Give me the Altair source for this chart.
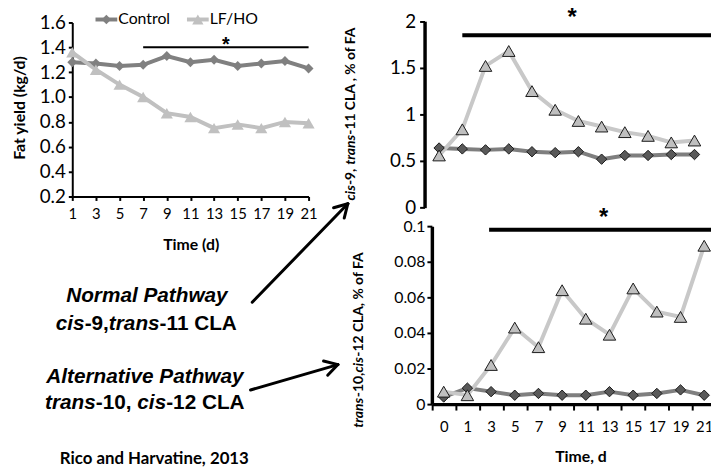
import math
import altair as alt
import pandas as pd

# ---------------- data ----------------
series = ["Control", "LF/HO"]

days_fat = [1, 3, 5, 7, 9, 11, 13, 15, 17, 19, 21]
fat_control = [1.28, 1.27, 1.25, 1.26, 1.33, 1.28, 1.30, 1.25, 1.27, 1.29, 1.23]
fat_lfho = [1.36, 1.22, 1.10, 1.00, 0.87, 0.84, 0.75, 0.78, 0.75, 0.80, 0.79]
fat_ticks = [0.2, 0.4, 0.6, 0.8, 1.0, 1.2, 1.4, 1.6]

days_cla = ["0", "1", "3", "5", "7", "9", "11", "13", "15", "17", "19", "21"]
c9t11_control = [0.64, 0.63, 0.62, 0.63, 0.60, 0.59, 0.60, 0.52, 0.56, 0.56, 0.57, 0.57]
c9t11_lfho = [0.56, 0.84, 1.52, 1.68, 1.25, 1.05, 0.93, 0.87, 0.81, 0.77, 0.70, 0.72]
c9t11_ticks = [0, 0.5, 1, 1.5, 2]

t10c12_control = [0.004, 0.009, 0.007, 0.005, 0.006, 0.005, 0.005, 0.007, 0.005, 0.006, 0.008, 0.005]
t10c12_lfho = [0.007, 0.005, 0.022, 0.043, 0.032, 0.064, 0.048, 0.039, 0.065, 0.052, 0.049, 0.089]
t10c12_ticks = [0, 0.02, 0.04, 0.06, 0.08, 0.1]

# significance bars (start day, end day, level, asterisk anchor)
sig_fat = {"start": 7, "end": 21, "level": 1.4, "star": "*"}
sig_c9 = {"start": "1", "end": "21", "level": 1.85, "anchor": "9", "star": "*"}
sig_t10 = {"start": "3", "end": "21", "level": 0.098, "anchor": "11", "star": "*"}

W, H = 711, 463
FONT = "Lato"
ARIAL = "Liberation Sans"


def long_df(days, a, b):
    return pd.DataFrame({
        "day": list(days) + list(days),
        "value": list(a) + list(b),
        "series": [series[0]] * len(a) + [series[1]] * len(b),
    })


def axis(orient, offset, **kw):
    base = dict(orient=orient, offset=offset, title=None, grid=False,
                domainColor="black", tickColor="black", labelColor="black",
                labelFont=FONT, labelOverlap=False, labelFlush=False)
    base.update(kw)
    return alt.Axis(**base)


# ---------------- panel A: fat yield ----------------
df_a = long_df(days_fat, fat_control, fat_lfho)
sc_xa = alt.Scale(domain=[1, 21], range=[65, 304], nice=False, zero=False)
sc_ya = alt.Scale(domain=[0.2, 1.6], range=[188, 12], nice=False, zero=False)
ax_xa = axis("bottom", 188 - H, values=days_fat, format="d", domainWidth=2, tickWidth=2,
             tickSize=4, labelFontSize=15, labelPadding=6)
ax_ya = axis("left", -65, values=fat_ticks, format=".1f", domainWidth=2, tickWidth=2,
             tickSize=4, labelFontSize=19, labelPadding=3)


def xa(f):
    return alt.X(f, scale=sc_xa, axis=ax_xa)


def ya(f):
    return alt.Y(f, scale=sc_ya, axis=ax_ya)


col_a = alt.Scale(domain=series, range=["#808080", "#c0c0c0"])
shape_sc = alt.Scale(domain=series, range=["diamond", "triangle-up"])

line_a = alt.Chart(df_a).mark_line(strokeWidth=4).encode(
    x=xa("day:Q"), y=ya("value:Q"),
    color=alt.Color("series:N", scale=col_a, legend=None))
pts_a = alt.Chart(df_a).mark_point(filled=True, opacity=1).encode(
    x=xa("day:Q"), y=ya("value:Q"),
    color=alt.Color("series:N", scale=col_a, legend=None),
    shape=alt.Shape("series:N", scale=shape_sc, legend=None),
    size=alt.Size("series:N", scale=alt.Scale(domain=series, range=[100, 150]), legend=None))
sig_a_df = pd.DataFrame([sig_fat])
sig_a = alt.Chart(sig_a_df).mark_rule(strokeWidth=2, color="black").encode(
    x=xa("start:Q"), x2="end:Q", y=ya("level:Q"))
star_a = alt.Chart(sig_a_df).transform_calculate(mid="(datum.start + datum.end) / 2").mark_text(
    font=ARIAL, fontSize=20, fontWeight="bold", baseline="alphabetic", dy=4, color="black").encode(
    x=xa("mid:Q"), y=ya("level:Q"), text="star:N")
panel_a = alt.layer(line_a, pts_a, sig_a, star_a)

# legend for panel A
leg_df = pd.DataFrame({"series": series})
leg_x = alt.X("series:N", scale=alt.Scale(type="point", domain=series, range=[99.5, 192], padding=0), axis=None)
leg_line = alt.Chart(leg_df).mark_rule(strokeWidth=4, xOffset=-11, x2Offset=11).encode(
    x=leg_x, x2="series:N", y=alt.value(9),
    color=alt.Color("series:N", scale=col_a, legend=None))
leg_pts = alt.Chart(leg_df).mark_point(filled=True, opacity=1).encode(
    x=leg_x, y=alt.value(9),
    color=alt.Color("series:N", scale=col_a, legend=None),
    shape=alt.Shape("series:N", scale=shape_sc, legend=None),
    size=alt.Size("series:N", scale=alt.Scale(domain=series, range=[90, 130]), legend=None))
leg_txt = alt.Chart(leg_df).mark_text(align="left", baseline="middle", dx=12, font=FONT,
                                      fontSize=16, color="black").encode(
    x=leg_x, y=alt.value(9), text="series:N")
legend_a = alt.layer(leg_line, leg_pts, leg_txt)

# ---------------- panels B and C ----------------
line_col = alt.Scale(domain=series, range=["#7f7f7f", "#c8c8c8"])
fill_col = alt.Scale(domain=series, range=["#595959", "#bfbfbf"])
size_bc = alt.Scale(domain=series, range=[110, 160])


def cla_panel(df, sig, xenc, yenc, star_dx, star_dy, x_off):
    ln = alt.Chart(df).mark_line(strokeWidth=4).encode(
        x=xenc("day:N"), y=yenc("value:Q"),
        color=alt.Color("series:N", scale=line_col, legend=None))
    pt = alt.Chart(df).mark_point(filled=True, opacity=1, stroke="#1a1a1a", strokeWidth=1).encode(
        x=xenc("day:N"), y=yenc("value:Q"),
        fill=alt.Fill("series:N", scale=fill_col, legend=None),
        shape=alt.Shape("series:N", scale=shape_sc, legend=None),
        size=alt.Size("series:N", scale=size_bc, legend=None))
    sdf = pd.DataFrame([sig])
    bar = alt.Chart(sdf).mark_rule(strokeWidth=4, color="black", xOffset=x_off, x2Offset=25).encode(
        x=xenc("start:N"), x2="end:N", y=yenc("level:Q"))
    st = alt.Chart(sdf).mark_text(font=ARIAL, fontSize=24, fontWeight="bold", baseline="alphabetic",
                                  dx=star_dx, dy=star_dy, color="black").encode(
        x=xenc("anchor:N"), y=yenc("level:Q"), text="star:N")
    return alt.layer(ln, pt, bar, st)


df_b = long_df(days_cla, c9t11_control, c9t11_lfho)
sc_xb = alt.Scale(type="point", domain=days_cla, range=[436, 694.3], padding=0)
sc_yb = alt.Scale(domain=[0, 2], range=[199.3, 10.7], nice=False, zero=False)
ax_yb = axis("left", -421.3, values=c9t11_ticks, format="~g", domainWidth=3.5, tickWidth=2,
             tickSize=5, labelFontSize=19, labelPadding=4)


def xb(f):
    return alt.X(f, scale=sc_xb, axis=None)


def yb(f):
    return alt.Y(f, scale=sc_yb, axis=ax_yb)


panel_b = cla_panel(df_b, sig_c9, xb, yb, 17, -10, 0)

df_c = long_df(days_cla, t10c12_control, t10c12_lfho)
sc_xc = alt.Scale(type="band", domain=days_cla, range=[428.7, 716.1], paddingInner=0, paddingOuter=0)
sc_yc = alt.Scale(domain=[0, 0.1], range=[398, 218], nice=False, zero=False)
ax_xc = axis("bottom", 398 - H, tickBand="extent", domainWidth=3.5, tickWidth=2, tickSize=6,
             labelFontSize=15, labelPadding=10, labelAngle=0)
ax_yc = axis("left", -428.7, values=t10c12_ticks, format="~g", domainWidth=3.5, tickWidth=2,
             tickSize=5, labelFontSize=16, labelPadding=2)


def xc(f):
    return alt.X(f, scale=sc_xc, axis=ax_xc, bandPosition=0.5)


def yc(f):
    return alt.Y(f, scale=sc_yc, axis=ax_yc)


panel_c = cla_panel(df_c, sig_t10, xc, yc, 18, -5, -2)

# ---------------- annotations ----------------
def arrow_segments(x0, y0, x1, y1, head=15, spread=30):
    a = math.atan2(y1 - y0, x1 - x0)
    segs = [(x0, y0, x1, y1)]
    for s in (1, -1):
        b = a + math.pi + s * math.radians(spread)
        segs.append((x1, y1, x1 + head * math.cos(b), y1 + head * math.sin(b)))
    return segs


arrow_rows = arrow_segments(247, 295, 343.7, 195.3) + arrow_segments(245.3, 383.7, 333.7, 358)
arrow_df = pd.DataFrame(arrow_rows, columns=["x", "y", "x2", "y2"])
arrows = alt.Chart(arrow_df).mark_rule(strokeWidth=3, color="black", strokeCap="round").encode(
    x=alt.X("x:Q", scale=None, axis=None), y=alt.Y("y:Q", scale=None, axis=None),
    x2="x2:Q", y2="y2:Q")


def text_layer(rows, **props):
    d = pd.DataFrame(rows, columns=["text", "x", "y"])
    base = dict(color="black", baseline="middle")
    base.update(props)
    return alt.Chart(d).mark_text(**base).encode(
        x=alt.X("x:Q", scale=None, axis=None), y=alt.Y("y:Q", scale=None, axis=None), text="text:N")


pathway_titles = text_layer([("Normal Pathway", 140.5, 288.7), ("Alternative Pathway", 138.5, 370.3)],
                            font=ARIAL, fontSize=21, fontWeight="bold", fontStyle="italic", align="center")
pathway_ital = text_layer([("cis", 48.3, 317), ("trans", 102.0, 317), ("trans", 37.5, 397), ("cis", 130.8, 397)],
                          font=ARIAL, fontSize=21, fontWeight="bold", fontStyle="italic", align="left")
pathway_norm = text_layer([("-9,", 77.5, 317), ("-11 CLA", 153.3, 317), ("-10,", 88.8, 397), ("-12 CLA", 160.0, 397)],
                          font=ARIAL, fontSize=21, fontWeight="bold", align="left")

plain_titles = text_layer([("Time (d)", 185.3, 237), ("Time, d", 579.5, 452)],
                          font=FONT, fontSize=16, fontWeight="bold", align="center")
credit = text_layer([("Rico and Harvatine, 2013", 148, 454)],
                    font=FONT, fontSize=17, fontWeight="bold", align="center")
fat_title = text_layer([("Fat yield (kg/d)", 12, 98.5)],
                       font=FONT, fontSize=16, fontWeight="bold", align="center", angle=270)
rot_ital = text_layer([("cis", 347, 192), ("trans", 347, 156), ("trans", 355, 422), ("cis", 355, 366)],
                      font=FONT, fontSize=14, fontWeight="bold", fontStyle="italic", align="left", angle=270)
rot_norm = text_layer([("-9,", 347, 176.5), ("-11 CLA , % of FA", 347, 125.5),
                       ("-10,", 355, 391), ("-12 CLA,  % of FA", 355, 350)],
                      font=FONT, fontSize=14, fontWeight="bold", align="left", angle=270)

chart = alt.layer(
    panel_a, panel_b, panel_c, legend_a, arrows,
    pathway_titles, pathway_ital, pathway_norm, plain_titles, credit, fat_title, rot_ital, rot_norm,
).resolve_scale(
    x="independent", y="independent", color="independent", fill="independent",
    shape="independent", size="independent",
).resolve_axis(
    x="independent", y="independent",
).properties(
    width=W, height=H, padding=0, autosize=alt.AutoSizeParams(type="none"),
).configure_view(strokeWidth=0)

chart.save("out.html", embed_options={"renderer": "svg", "actions": False})
